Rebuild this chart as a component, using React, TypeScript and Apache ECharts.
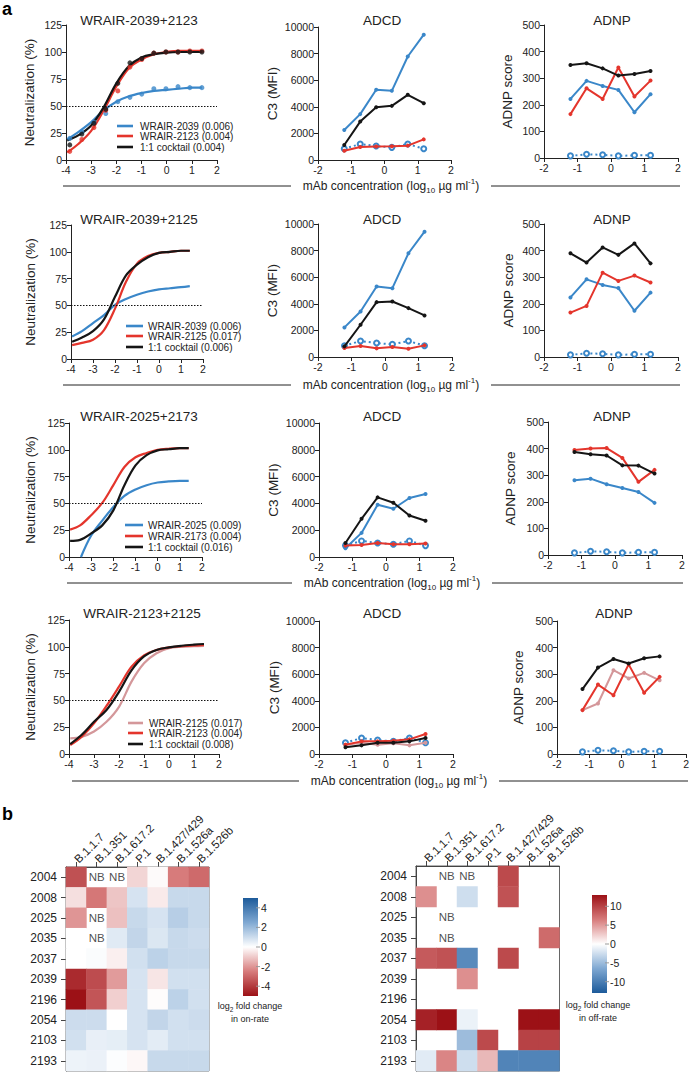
import React, { useEffect, useRef } from "react";
import * as echarts from "echarts";

const FONT = '"Liberation Sans", Arial, Helvetica, sans-serif';
const BLUE = "#3a87c9";
const RED = "#e4352c";
const BLACK = "#151515";
const PINK = "#d4979a";

// ---------- Neutralization curves ----------
const NEUT_X = [-3.95, -3.5, -3, -2.5, -2, -1.5, -1, -0.5, 0, 0.5, 1, 1.4];
const NEUT_X_R3_BLUE = [-3.46, -3, -2.5, -2, -1.5, -1, -0.5, 0, 0.5, 1, 1.4];
const NEUT_DOSE_X = [-3.85, -3.37, -2.89, -2.42, -1.94, -1.46, -0.99, -0.51, -0.03, 0.45, 0.92, 1.4];

const R1_TITLE = "WRAIR-2039+2123";
const R1_NAMES = ["WRAIR-2039 (0.006)", "WRAIR-2123 (0.004)", "1:1 cocktail (0.004)"];
const R1_BLUE = [19, 26, 35, 46, 54, 59, 62, 64, 65, 66, 67, 67];
const R1_RED = [7, 15, 27, 46, 68, 85, 93, 98, 100, 101, 101, 101];
const R1_BLACK = [18, 23, 32, 49, 71, 87, 95, 98, 99.5, 100, 100, 100];
const R1_BLUE_PTS = [20, 26, 35, 43, 54, 58, 61, 66, 66, 68, 67, 67];
const R1_RED_PTS = [8, 19, 30, 46, 64, 86, 93, 99, 100, 100, 101, 101];
const R1_BLACK_PTS = [14, 24, 34, 47, 71, 90, 94, 99, 100, 100, 100, 100];

const R2_TITLE = "WRAIR-2039+2125";
const R2_NAMES = ["WRAIR-2039 (0.006)", "WRAIR-2125 (0.017)", "1:1 cocktail (0.006)"];
const R2_BLUE = [21, 26, 33.5, 41, 50.5, 56, 60, 63, 65, 66, 67, 68];
const R2_RED = [13, 15, 18, 27, 47, 72, 89, 96, 99, 100, 101, 101];
const R2_BLACK = [16, 20, 26, 37, 58, 78, 88, 95, 99, 100, 101, 101];

const R3_TITLE = "WRAIR-2025+2173";
const R3_NAMES = ["WRAIR-2025 (0.009)", "WRAIR-2173 (0.004)", "1:1 cocktail (0.016)"];
const R3_BLUE = [0, 20, 34, 46.6, 57, 63, 67, 69.5, 70.5, 71, 71];
const R3_RED = [25.5, 29.5, 39, 50.4, 67, 84, 93, 97, 100, 101, 101.5, 101.5];
const R3_BLACK = [15, 16, 22, 29.5, 43.5, 67, 85.5, 95, 99.5, 100.5, 101.5, 101.5];

const R4_TITLE = "WRAIR-2123+2125";
const R4_NAMES = ["WRAIR-2125 (0.017)", "WRAIR-2123 (0.004)", "1:1 cocktail (0.008)"];
const R4_PINK = [14.6, 16, 21, 30, 44, 67.5, 84.6, 94, 98.6, 100, 100.5, 100.8];
const R4_RED = [8.4, 16, 28.6, 44.8, 62.8, 81.5, 92, 97, 99.5, 100.5, 101.2, 101.7];
const R4_BLACK = [9.3, 17.7, 30, 41, 58, 78, 91, 97, 99.5, 101, 102, 102.6];

// ---------- ADCD / ADNP ----------
const FC_X = [-1.21, -0.73, -0.25, 0.22, 0.7, 1.18];
const CTRL_ADCD = [850, 1200, 1050, 950, 1200, 850];
const CTRL_ADNP = [8, 14, 12, 8, 10, 10];

const R1_ADCD_BLUE = [2250, 3450, 5280, 5200, 7780, 9420];
const R1_ADCD_RED = [700, 980, 1010, 1030, 1080, 1550];
const R1_ADCD_BLACK = [1130, 2890, 3970, 4070, 4900, 4270];
const R1_ADNP_BLUE = [222, 290, 271, 256, 172, 240];
const R1_ADNP_RED = [165, 262, 222, 340, 231, 291];
const R1_ADNP_BLACK = [350, 356, 337, 310, 316, 327];

const R2_ADCD_BLUE = [2225, 3425, 5300, 5175, 7800, 9425];
const R2_ADCD_RED = [675, 825, 650, 750, 625, 875];
const R2_ADCD_BLACK = [800, 2425, 4125, 4175, 3675, 3125];
const R2_ADNP_BLUE = [224, 292, 271, 259, 174, 242];
const R2_ADNP_RED = [167, 192, 317, 286, 306, 280];
const R2_ADNP_BLACK = [390, 355, 412, 384, 427, 352];

const R3_ADCD_BLUE = [650, 1800, 3900, 3600, 4400, 4700];
const R3_ADCD_RED = [850, 900, 1050, 950, 950, 1000];
const R3_ADCD_BLACK = [1050, 2850, 4450, 4050, 3100, 2700];
const R3_ADNP_BLUE = [281, 287, 266, 252, 237, 196];
const R3_ADNP_RED = [395, 400, 402, 365, 275, 320];
const R3_ADNP_BLACK = [387, 379, 374, 337, 336, 306];

const R4_ADCD_PINK = [700, 850, 700, 800, 650, 850];
const R4_ADCD_RED = [700, 950, 950, 1000, 1100, 1500];
const R4_ADCD_BLACK = [500, 650, 850, 850, 950, 1200];
const R4_ADNP_PINK = [165, 190, 315, 284, 305, 277];
const R4_ADNP_RED = [165, 261, 221, 337, 230, 290];
const R4_ADNP_BLACK = [244, 325, 357, 340, 360, 367];

// ---------- Heatmaps ----------
const VARIANTS = ["B.1.1.7", "B.1.351", "B.1.617.2", "P.1", "B.1.427/429", "B.1.526a", "B.1.526b"];
const MABS = ["2004", "2008", "2025", "2035", "2037", "2039", "2196", "2054", "2103", "2193"];
const ON_RATE: (number | null)[][] = [
  [-3.5, null, null, -0.8, -0.1, -2.5, -2.9],
  [-0.6, -2.6, -1.1, 0.8, -0.4, 1.1, 1.1],
  [-2.0, null, -1.2, 1.1, 0.8, 1.4, 1.1],
  [0, null, 0.6, 1.2, 0.7, 1.1, 1.0],
  [0, 0.1, -0.3, 0.9, 1.3, 1.1, 1.1],
  [-4.4, -3.6, -1.9, 0.8, -0.5, 0.9, 0.9],
  [-5.0, -3.4, -0.9, 0.8, -0.05, 1.3, 0.9],
  [1.0, 1.0, 0, 0.8, 1.2, 0.9, 1.0],
  [0.9, 0.45, 0.5, 0.8, 0.55, 0.9, 0.9],
  [0.35, 0.4, 0.05, -0.15, 1.1, 1.1, 1.1],
];
const ON_NB = [[1, 0], [2, 0], [1, 2], [1, 3]];
const OFF_RATE: (number | null)[][] = [
  [null, null, null, null, 9.5, null, null],
  [5.5, null, -2.5, null, 9, null, null],
  [null, null, null, null, null, null, null],
  [null, null, null, null, null, null, 7.5],
  [8.5, 9, -9, null, 9.5, null, null],
  [null, null, 5.5, null, null, null, null],
  [null, null, null, null, null, null, null],
  [12, 13, -1, null, null, 13, 13],
  [null, null, -5, 9.5, null, 10, 10],
  [-1.5, 6, -2.5, 3.5, -9.5, -9.5, -9.5],
];
const OFF_NB = [[1, 0], [2, 0], [1, 2], [1, 3]];
const ON_RANGE = [-5, 5];
const OFF_RANGE = [-13, 13];
const ON_TICKS = [4, 2, 0, -2, -4];
const OFF_TICKS = [10, 5, 0, -5, -10];
const ON_COLORS = ["#9c1116", "#d77b7b", "#ffffff", "#7fa8d2", "#1c5a9a"]; // min -> max
const OFF_COLORS = ["#1c5a9a", "#7fa8d2", "#ffffff", "#d77b7b", "#9c1116"]; // min -> max

// ---------- layout (positions only) ----------
const LAYOUT = [
  { neut: { left: 66, top: 25, width: 151, height: 135 }, adcd: { left: 318, top: 27, width: 133, height: 133 }, adnp: { left: 544, top: 25, width: 134, height: 133 },
    titleY: 20, legY: [126, 136, 147], legL: [117, 133], legT: 140, baseY: 186, lineL: 63, lineR: 680, textX: 391, gaps: [30, 39, 30] },
  { neut: { left: 71, top: 225, width: 132, height: 134 }, adcd: { left: 318, top: 224, width: 134, height: 133 }, adnp: { left: 544, top: 224, width: 134, height: 133 },
    titleY: 219, legY: [326, 336, 347], legL: [126, 143], legT: 148, baseY: 385, lineL: 63, lineR: 680, textX: 391, gaps: [34, 39, 29] },
  { neut: { left: 69, top: 423, width: 133, height: 134 }, adcd: { left: 319, top: 423, width: 134, height: 134 }, adnp: { left: 548, top: 422, width: 134, height: 133 },
    titleY: 416, legY: [525, 536, 547], legL: [125, 143], legT: 148, baseY: 583, lineL: 67, lineR: 683, textX: 392, gaps: [32, 39, 31] },
  { neut: { left: 69, top: 620, width: 150, height: 134 }, adcd: { left: 319, top: 621, width: 134, height: 133 }, adnp: { left: 557, top: 621, width: 133, height: 133 },
    titleY: 613, legY: [723, 733, 744], legL: [128, 143], legT: 149, baseY: 781, lineL: 72, lineR: 688, textX: 399, gaps: [32, 38, 32] },
];

const ROWS = [
  { title: R1_TITLE, names: R1_NAMES, colors: [BLUE, RED, BLACK],
    curves: [[NEUT_X, R1_BLUE], [NEUT_X, R1_RED], [NEUT_X, R1_BLACK]],
    pts: [R1_BLUE_PTS, R1_RED_PTS, R1_BLACK_PTS],
    adcd: [R1_ADCD_BLUE, R1_ADCD_RED, R1_ADCD_BLACK], adnp: [R1_ADNP_BLUE, R1_ADNP_RED, R1_ADNP_BLACK] },
  { title: R2_TITLE, names: R2_NAMES, colors: [BLUE, RED, BLACK],
    curves: [[NEUT_X, R2_BLUE], [NEUT_X, R2_RED], [NEUT_X, R2_BLACK]], pts: null,
    adcd: [R2_ADCD_BLUE, R2_ADCD_RED, R2_ADCD_BLACK], adnp: [R2_ADNP_BLUE, R2_ADNP_RED, R2_ADNP_BLACK] },
  { title: R3_TITLE, names: R3_NAMES, colors: [BLUE, RED, BLACK],
    curves: [[NEUT_X_R3_BLUE, R3_BLUE], [NEUT_X, R3_RED], [NEUT_X, R3_BLACK]], pts: null,
    adcd: [R3_ADCD_BLUE, R3_ADCD_RED, R3_ADCD_BLACK], adnp: [R3_ADNP_BLUE, R3_ADNP_RED, R3_ADNP_BLACK] },
  { title: R4_TITLE, names: R4_NAMES, colors: [PINK, RED, BLACK],
    curves: [[NEUT_X, R4_PINK], [NEUT_X, R4_RED], [NEUT_X, R4_BLACK]], pts: null,
    adcd: [R4_ADCD_PINK, R4_ADCD_RED, R4_ADCD_BLACK], adnp: [R4_ADNP_PINK, R4_ADNP_RED, R4_ADNP_BLACK] },
];

const zip = (xs: number[], ys: number[]) => ys.map((y, i) => [xs[i], y]);

function buildOption() {
  const grid: any[] = [];
  const xAxis: any[] = [];
  const yAxis: any[] = [];
  const series: any[] = [];
  const graphic: any[] = [];

  const axisBase = () => ({
    axisLine: { show: true, onZero: false, lineStyle: { color: "#222", width: 1 } },
    axisTick: { show: true, length: 4, lineStyle: { color: "#222", width: 1 } },
    axisLabel: { fontSize: 10.5, color: "#222", fontFamily: FONT, margin: 4, formatter: (v: number) => String(v) },
    splitLine: { show: false },
  });

  const addValueGrid = (g: any, xr: number[], yr: number[], yName: string, gap: number) => {
    grid.push({ ...g, containLabel: false });
    const i = grid.length - 1;
    xAxis.push({ type: "value", gridIndex: i, min: xr[0], max: xr[1], interval: xr[2], ...axisBase() });
    yAxis.push({
      type: "value", gridIndex: i, min: yr[0], max: yr[1], interval: yr[2], ...axisBase(),
      name: yName, nameLocation: "middle", nameGap: gap, nameRotate: 90,
      nameTextStyle: { fontSize: 13.5, color: "#222", fontFamily: FONT },
    });
    return i;
  };

  const text = (x: number, y: number, t: string, size: number, extra: any = {}) => ({
    type: "text", x, y, silent: true,
    style: { text: t, fontSize: size, fontFamily: FONT, fill: "#222", align: "center", verticalAlign: "middle", ...extra },
  });

  ROWS.forEach((row, r) => {
    const L = LAYOUT[r];
    // Neutralization
    const gi = addValueGrid(L.neut, [-4, 2, 1], [0, 125, 25], "Neutralization (%)", L.gaps[0]);
    row.curves.forEach((c, k) => {
      series.push({
        type: "line", name: row.names[k], xAxisIndex: gi, yAxisIndex: gi,
        data: zip(c[0] as number[], c[1] as number[]), smooth: 0.35, showSymbol: false, symbol: "none",
        lineStyle: { color: row.colors[k], width: 2.2 }, itemStyle: { color: row.colors[k] },
        z: 3 + k,
        markLine: k === 0 ? {
          silent: true, symbol: "none", label: { show: false },
          lineStyle: { color: "#111", width: 1, type: [1.5, 1.5] },
          data: [[{ coord: [-4, 50] }, { coord: [2, 50] }]],
        } : undefined,
      });
    });
    if (row.pts) {
      row.pts.forEach((p, k) => {
        series.push({
          type: "scatter", xAxisIndex: gi, yAxisIndex: gi, data: zip(NEUT_DOSE_X, p),
          symbolSize: 5, itemStyle: { color: row.colors[k] }, z: 6,
        });
      });
    }
    // Title + legend
    graphic.push(text(139 + (r === 3 ? 3 : 0), L.titleY, row.title, 13.5));
    row.names.forEach((n, k) => {
      graphic.push({ type: "line", silent: true, shape: { x1: L.legL[0], y1: L.legY[k], x2: L.legL[1], y2: L.legY[k] },
        style: { stroke: row.colors[k], lineWidth: 2.6 } });
      graphic.push(text(L.legT, L.legY[k], n, 10, { align: "left" }));
    });

    // ADCD / ADNP
    const ga = addValueGrid(L.adcd, [-2, 2, 1], [0, 10000, 2000], "C3 (MFI)", L.gaps[1]);
    const gb = addValueGrid(L.adnp, [-2, 2, 1], [0, 500, 100], "ADNP score", L.gaps[2]);
    [[ga, CTRL_ADCD, row.adcd, "ADCD"], [gb, CTRL_ADNP, row.adnp, "ADNP"]].forEach((e: any) => {
      const [g, ctrl, vals, title] = e;
      series.push({
        type: "line", xAxisIndex: g, yAxisIndex: g, data: zip(FC_X, ctrl),
        symbol: "emptyCircle", symbolSize: 5, showSymbol: true,
        lineStyle: { color: BLUE, width: 2, type: [2, 3] },
        itemStyle: { color: BLUE, borderWidth: 1.5, borderColor: BLUE }, z: 2,
      });
      (vals as number[][]).forEach((v, k) => {
        series.push({
          type: "line", xAxisIndex: g, yAxisIndex: g, data: zip(FC_X, v),
          symbol: "circle", symbolSize: 4, showSymbol: true,
          lineStyle: { color: row.colors[k], width: 2 }, itemStyle: { color: row.colors[k] }, z: 3 + k,
        });
      });
      graphic.push(text(r === 3 && title === "ADNP" ? 614 : (title === "ADCD" ? 382 : 612), L.titleY, title, 13.5));
    });

    // shared x-axis title
    const half = 100;
    graphic.push({ type: "line", silent: true, shape: { x1: L.lineL, y1: L.baseY, x2: L.textX - half, y2: L.baseY }, style: { stroke: "#222", lineWidth: 1 } });
    graphic.push({ type: "line", silent: true, shape: { x1: L.textX + half, y1: L.baseY, x2: L.lineR, y2: L.baseY }, style: { stroke: "#222", lineWidth: 1 } });
    graphic.push({
      type: "text", x: L.textX, y: L.baseY, silent: true,
      style: {
        text: "mAb concentration (log{sub|10} µg ml{sup|-1})",
        fontSize: 12, fontFamily: FONT, fill: "#222", align: "center", verticalAlign: "middle",
        rich: {
          sub: { fontSize: 8, fontFamily: FONT, fill: "#222", verticalAlign: "bottom", lineHeight: 17 },
          sup: { fontSize: 8, fontFamily: FONT, fill: "#222", verticalAlign: "top", lineHeight: 12 },
        },
      },
    });
  });

  // ---------- heatmaps ----------
  const hmDefs = [
    { grid: { left: 66, top: 867, width: 143, height: 204 }, vals: ON_RATE, nb: ON_NB, range: ON_RANGE, colors: ON_COLORS,
      bar: { x: 243, y: 898, w: 15, h: 98 }, ticks: ON_TICKS, capX: 250, capY: 1006, cap2: "in on-rate" },
    { grid: { left: 416, top: 866, width: 143.5, height: 205 }, vals: OFF_RATE, nb: OFF_NB, range: OFF_RANGE, colors: OFF_COLORS,
      bar: { x: 592, y: 895, w: 15, h: 98 }, ticks: OFF_TICKS, capX: 598, capY: 1005, cap2: "in off-rate" },
  ];
  const visualMap: any[] = [];
  hmDefs.forEach((h) => {
    grid.push({ ...h.grid, containLabel: false, show: true, borderColor: "#666", borderWidth: 1, backgroundColor: "transparent" });
    const i = grid.length - 1;
    xAxis.push({
      type: "category", gridIndex: i, data: VARIANTS, position: "top",
      axisLine: { show: true, lineStyle: { color: "#444" } },
      axisTick: { show: true, alignWithLabel: true, length: 5, lineStyle: { color: "#444" } },
      axisLabel: { rotate: -45, align: "left", verticalAlign: "middle", fontSize: 11.5, color: "#222", fontFamily: FONT, margin: 6, interval: 0 },
      splitLine: { show: false },
    });
    yAxis.push({
      type: "category", gridIndex: i, data: MABS, inverse: true,
      axisLine: { show: true, lineStyle: { color: "#444" } },
      axisTick: { show: true, alignWithLabel: true, length: 5, lineStyle: { color: "#444" } },
      axisLabel: { fontSize: 12, color: "#222", fontFamily: FONT, margin: 9, interval: 0 },
      splitLine: { show: false },
    });
    const data: any[] = [];
    h.vals.forEach((rowV, ri) => rowV.forEach((v, ci) => { if (v !== null) data.push([ci, ri, v]); }));
    series.push({
      type: "heatmap", xAxisIndex: i, yAxisIndex: i, data, itemStyle: { borderWidth: 0 },
      emphasis: { disabled: true }, progressive: 0,
    });
    visualMap.push({
      type: "continuous", show: false, seriesIndex: series.length - 1, dimension: 2,
      min: h.range[0], max: h.range[1], inRange: { color: h.colors },
    });
    series.push({
      type: "scatter", xAxisIndex: i, yAxisIndex: i, data: h.nb, symbolSize: 1,
      itemStyle: { color: "rgba(0,0,0,0)" }, silent: true,
      label: { show: true, position: "inside", formatter: "NB", fontSize: 11.5, color: "#222", fontFamily: FONT },
    });
    // colour bar
    const stops = h.colors.slice().reverse().map((c, k, arr) => ({ offset: k / (arr.length - 1), color: c }));
    graphic.push({
      type: "rect", silent: true, shape: { x: h.bar.x, y: h.bar.y, width: h.bar.w, height: h.bar.h },
      style: { fill: { type: "linear", x: 0, y: 0, x2: 0, y2: 1, colorStops: stops } },
    });
    h.ticks.forEach((t) => {
      const y = h.bar.y + ((h.range[1] - t) / (h.range[1] - h.range[0])) * h.bar.h;
      graphic.push({ type: "line", silent: true, shape: { x1: h.bar.x + h.bar.w - 2, y1: y, x2: h.bar.x + h.bar.w + 2, y2: y }, style: { stroke: "#999", lineWidth: 1 } });
      graphic.push(text(h.bar.x + h.bar.w + 3, y, String(t), 10.5, { align: "left" }));
    });
    graphic.push({
      type: "text", x: h.capX, y: h.capY, silent: true,
      style: {
        text: "log{sub|2} fold change", fontSize: 9, fontFamily: FONT, fill: "#222", align: "center", verticalAlign: "middle",
        rich: { sub: { fontSize: 6.5, fontFamily: FONT, fill: "#222", verticalAlign: "bottom", lineHeight: 13 } },
      },
    });
    graphic.push(text(h.capX, h.capY + 13, h.cap2, 9));
  });

  // panel letters
  graphic.push(text(2, 9, "a", 18, { align: "left", fontWeight: "bold", fill: "#000" }));
  graphic.push(text(2, 814, "b", 18, { align: "left", fontWeight: "bold", fill: "#000" }));

  return {
    animation: false,
    backgroundColor: "#ffffff",
    textStyle: { fontFamily: FONT },
    grid, xAxis, yAxis, series, visualMap, graphic,
  };
}

export default function App() {
  const ref = useRef<HTMLDivElement>(null);
  useEffect(() => {
    if (!ref.current) return;
    const chart = echarts.init(ref.current, undefined, { renderer: "svg" });
    chart.setOption(buildOption() as any);
    return () => chart.dispose();
  }, []);
  return (
    <div
      ref={ref}
      style={{ position: "absolute", left: 0, top: 0, width: 692, height: 1072, background: "#fff" }}
    />
  );
}
